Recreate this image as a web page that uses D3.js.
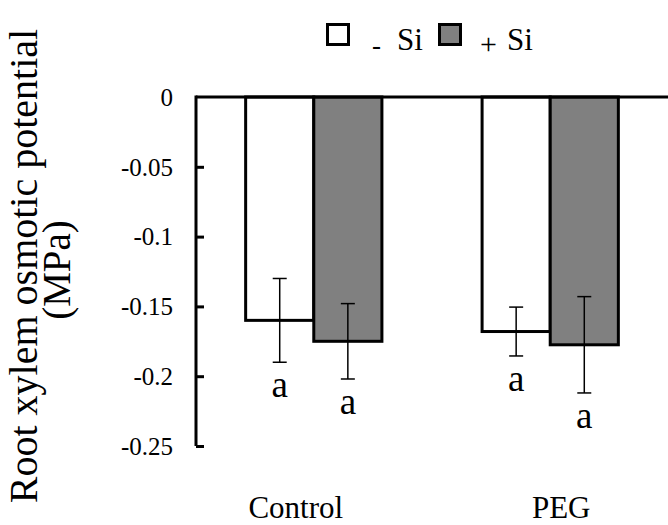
<!DOCTYPE html>
<html><head><meta charset="utf-8">
<script src="https://cdn.jsdelivr.net/npm/d3@7/dist/d3.min.js"></script>
<style>body{margin:0;background:#fff}svg{display:block}text{font-family:"Liberation Serif","Times New Roman",serif;fill:#000}</style>
</head><body><div id="chart"></div>
<script>
const categories = ["Control", "PEG"];
const seriesNames = ["- Si", "+ Si"];
const meansMinusSi = [-0.160, -0.168];
const meansPlusSi = [-0.175, -0.1775];
const errMinusSi = [0.030, 0.0175];
const errPlusSi = [0.027, 0.0345];
const lettersMinusSi = ["a", "a"];
const lettersPlusSi = ["a", "a"];
const yTicks = [0, -0.05, -0.1, -0.15, -0.2, -0.25];
const yTickLabels = ["0", "-0.05", "-0.1", "-0.15", "-0.2", "-0.25"];
const seriesColors = ["#ffffff", "#808080"];

const W = 668, H = 525;
const svg = d3.select("#chart").append("svg").attr("width", W).attr("height", H);

const y = d3.scaleLinear().domain([-0.25, 0]).range([446, 97]);
const x0 = d3.scaleBand().domain(categories).range([196, 668]).paddingInner(0.4237).paddingOuter(0.21);
const x1 = d3.scaleBand().domain(seriesNames).range([0, x0.bandwidth()]).padding(0);

const rows = [];
categories.forEach((c, i) => {
  rows.push({cat: c, s: seriesNames[0], m: meansMinusSi[i], e: errMinusSi[i], l: lettersMinusSi[i], col: seriesColors[0]});
  rows.push({cat: c, s: seriesNames[1], m: meansPlusSi[i], e: errPlusSi[i], l: lettersPlusSi[i], col: seriesColors[1]});
});

// bars
svg.selectAll("rect.bar").data(rows).enter().append("rect")
  .attr("class", "bar")
  .attr("x", d => x0(d.cat) + x1(d.s))
  .attr("y", y(0))
  .attr("width", x1.bandwidth())
  .attr("height", d => y(d.m) - y(0))
  .attr("fill", d => d.col)
  .attr("stroke", "#000").attr("stroke-width", 3);

// error bars
const eb = svg.selectAll("g.err").data(rows).enter().append("g").attr("class", "err")
  .attr("stroke", "#000").attr("stroke-width", 1.5);
const cx = d => x0(d.cat) + x1(d.s) + x1.bandwidth() / 2;
eb.append("line").attr("x1", cx).attr("x2", cx).attr("y1", d => y(d.m + d.e)).attr("y2", d => y(d.m - d.e));
eb.append("line").attr("x1", d => cx(d) - 7).attr("x2", d => cx(d) + 7).attr("y1", d => y(d.m + d.e)).attr("y2", d => y(d.m + d.e));
eb.append("line").attr("x1", d => cx(d) - 7).attr("x2", d => cx(d) + 7).attr("y1", d => y(d.m - d.e)).attr("y2", d => y(d.m - d.e));

// letters
svg.selectAll("text.sig").data(rows).enter().append("text")
  .attr("class", "sig")
  .attr("x", cx).attr("y", d => y(d.m - d.e) + 35)
  .attr("text-anchor", "middle").style("font-size", "37px")
  .text(d => d.l);

// zero line
svg.append("line").attr("x1", 196).attr("x2", W).attr("y1", y(0)).attr("y2", y(0))
  .attr("stroke", "#000").attr("stroke-width", 3);

// y axis
const yAxis = d3.axisRight(y).tickValues(yTicks).tickSize(8).tickFormat((d, i) => yTickLabels[i]);
const ga = svg.append("g").attr("transform", "translate(196,0)").call(yAxis);
ga.attr("font-family", null).attr("font-size", null);
ga.select(".domain").remove();
ga.selectAll(".tick line").attr("stroke", "#000").attr("stroke-width", 3);
ga.selectAll(".tick").filter(d => d === 0).select("line").remove();
ga.selectAll(".tick text").attr("x", -23).attr("text-anchor", "end").attr("dy", "0.33em")
  .attr("font-family", "Liberation Serif")
  .style("font-family", "'Liberation Serif', serif")
  .style("font-size", "25px").attr("fill", "#000");
svg.append("line").attr("x1", 196).attr("x2", 196).attr("y1", y(0) - 1.5).attr("y2", y(-0.25))
  .attr("stroke", "#000").attr("stroke-width", 3);

// x labels
const xLabelShift = {"Control": -18, "PEG": 11};
svg.selectAll("text.xl").data(categories).enter().append("text")
  .attr("class", "xl")
  .attr("x", d => x0(d) + x0.bandwidth() / 2 + xLabelShift[d]).attr("y", 518)
  .attr("text-anchor", "middle").style("font-size", "31px").text(d => d);

// y title
svg.append("text").attr("transform", "translate(37,266) rotate(-90)")
  .attr("text-anchor", "middle").style("font-size", "40px").text("Root xylem osmotic potential");
svg.append("text").attr("transform", "translate(70,270) rotate(-90)")
  .attr("text-anchor", "middle").style("font-size", "39px").text("(MPa)");

// legend
const leg = [{box: 326, sym: 372, si: 397, col: seriesColors[0]}, {box: 438, sym: 480, si: 507, col: seriesColors[1]}];
leg.forEach((l, i) => {
  svg.append("rect").attr("x", l.box + 1.5).attr("y", 24.5).attr("width", 21).attr("height", 20)
    .attr("fill", l.col).attr("stroke", "#000").attr("stroke-width", 3);
  svg.append("text").attr("x", l.sym).attr("y", 54).style("font-size", i === 0 ? "27px" : "30px").text(seriesNames[i].charAt(0));
  svg.append("text").attr("x", l.si).attr("y", 50).style("font-size", "31px").text("Si");
});
</script></body></html>
